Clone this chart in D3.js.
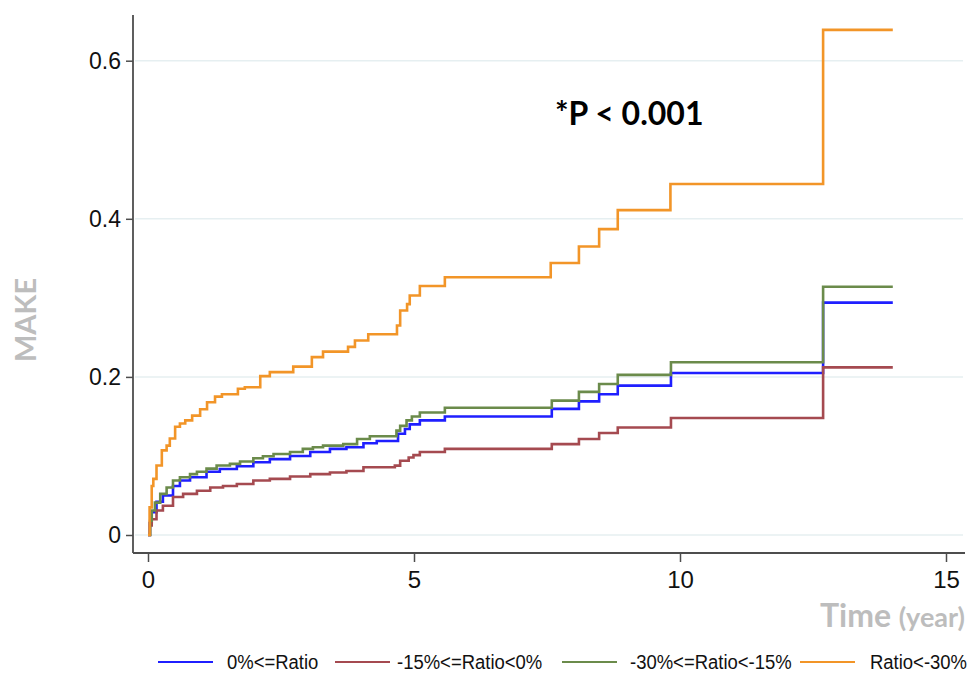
<!DOCTYPE html>
<html>
<head>
<meta charset="utf-8">
<script src="https://cdn.jsdelivr.net/npm/d3@7"></script>
<style>
  body { margin: 0; background: #fff; }
  svg { display: block; }
</style>
</head>
<body>
<div id="chart"></div>
<script>
// cumulative incidence (step points: time in years, value after the step)
let blueT = [0, 0.03, 0.07, 0.16, 0.28, 0.47, 0.60, 0.79, 1.10, 1.35, 1.67, 1.98, 2.29, 2.67, 3.05, 3.42, 3.73, 4.05, 4.30, 4.70, 4.83, 4.92, 5.11, 5.58, 7.59, 8.10, 8.48, 8.83, 9.83, 12.69, 14.0]
let blueV = [0, 0.015, 0.029, 0.042, 0.050, 0.062, 0.069, 0.073, 0.080, 0.0835, 0.087, 0.092, 0.096, 0.100, 0.105, 0.109, 0.111, 0.116, 0.119, 0.128, 0.134, 0.140, 0.145, 0.150, 0.1595, 0.169, 0.178, 0.189, 0.205, 0.294, 0.294]

let redT = [0, 0.04, 0.07, 0.16, 0.28, 0.47, 0.66, 0.92, 1.17, 1.41, 1.67, 1.98, 2.29, 2.67, 3.05, 3.42, 3.73, 4.05, 4.64, 4.74, 4.90, 4.99, 5.11, 5.58, 7.59, 8.10, 8.48, 8.83, 9.83, 12.69, 14.0]
let redV = [0, 0.012, 0.020, 0.031, 0.037, 0.048, 0.052, 0.056, 0.060, 0.062, 0.0646, 0.069, 0.071, 0.074, 0.077, 0.079, 0.081, 0.0857, 0.0877, 0.094, 0.098, 0.101, 0.105, 0.109, 0.115, 0.1215, 0.129, 0.136, 0.148, 0.212, 0.212]

let greenT = [0, 0.04, 0.07, 0.13, 0.23, 0.35, 0.47, 0.60, 0.79, 0.92, 1.10, 1.29, 1.54, 1.73, 1.98, 2.16, 2.36, 2.67, 2.91, 3.10, 3.29, 3.67, 3.93, 4.17, 4.67, 4.74, 4.86, 4.96, 5.11, 5.58, 7.59, 8.10, 8.48, 8.83, 9.83, 12.69, 14.0]
let greenV = [0, 0.018, 0.031, 0.041, 0.052, 0.060, 0.069, 0.073, 0.077, 0.080, 0.084, 0.088, 0.090, 0.093, 0.097, 0.0996, 0.1025, 0.105, 0.109, 0.111, 0.113, 0.115, 0.1215, 0.125, 0.132, 0.138, 0.145, 0.150, 0.155, 0.161, 0.170, 0.181, 0.191, 0.2025, 0.2186, 0.314, 0.314]

let orangeT = [0, 0.03, 0.07, 0.10, 0.16, 0.26, 0.35, 0.41, 0.51, 0.60, 0.70, 0.83, 0.98, 1.11, 1.26, 1.39, 1.69, 1.82, 2.11, 2.29, 2.73, 3.08, 3.29, 3.76, 3.89, 4.14, 4.68, 4.74, 4.87, 4.92, 5.11, 5.58, 7.57, 8.10, 8.48, 8.83, 9.82, 12.69, 14.0]
let orangeV = [0, 0.035, 0.062, 0.071, 0.088, 0.107, 0.113, 0.122, 0.137, 0.141, 0.145, 0.151, 0.159, 0.168, 0.175, 0.178, 0.185, 0.187, 0.201, 0.206, 0.213, 0.225, 0.232, 0.238, 0.246, 0.254, 0.265, 0.284, 0.292, 0.303, 0.315, 0.326, 0.344, 0.365, 0.387, 0.411, 0.444, 0.639, 0.639]

let seriesNames = ["0%<=Ratio", "-15%<=Ratio<0%", "-30%<=Ratio<-15%", "Ratio<-30%"]
let seriesColors = ["#1f1fff", "#a54a50", "#6b8b4b", "#f29528"]
let xTicks = [0, 5, 10, 15]
let yTicks = [0, 0.2, 0.4, 0.6]

let series = [
  {T: blueT, V: blueV},
  {T: redT, V: redV},
  {T: greenT, V: greenV},
  {T: orangeT, V: orangeV}
]

let width = 969, height = 673

let svg = d3.select("#chart")
  .append("svg")
  .attr("width", width)
  .attr("height", height)

// Domain is numeric range, range is pixels covered
let xAx = d3.scaleLinear().domain([0, 15]).range([148, 946])
let yAx = d3.scaleLinear().domain([0, 0.6]).range([535, 60.7])

let axisX = 133, axisY = 553

// gridlines
svg.append("g")
  .selectAll("line")
  .data(yTicks)
  .join("line")
  .attr("x1", axisX + 2)
  .attr("x2", 963)
  .attr("y1", d => yAx(d))
  .attr("y2", d => yAx(d))
  .attr("stroke", "#e6eff1")
  .attr("stroke-width", 1.5)

// y axis
let yAxisG = svg.append("g")
  .attr("transform", "translate(" + axisX + ",0)")
  .call(d3.axisLeft(yAx).tickValues(yTicks).tickSize(7).tickPadding(5)
    .tickFormat(d => d === 0 ? "0" : d3.format(".1f")(d)))
yAxisG.select(".domain").remove()
yAxisG.selectAll("line").attr("stroke", "#4d4d4d").attr("stroke-width", 1.5)
yAxisG.selectAll("text")
  .style("font-family", "'Liberation Sans', Arial, sans-serif")
  .style("font-size", "23px")
  .attr("fill", "#111")

// x axis
let xAxisG = svg.append("g")
  .attr("transform", "translate(0," + axisY + ")")
  .call(d3.axisBottom(xAx).tickValues(xTicks).tickSize(9).tickPadding(9))
xAxisG.select(".domain").remove()
xAxisG.selectAll("line").attr("stroke", "#4d4d4d").attr("stroke-width", 1.5)
xAxisG.selectAll("text")
  .style("font-family", "'Liberation Sans', Arial, sans-serif")
  .style("font-size", "24px")
  .attr("fill", "#111")

// axis lines
svg.append("line")
  .attr("x1", axisX).attr("x2", axisX)
  .attr("y1", 15).attr("y2", axisY)
  .attr("stroke", "#4d4d4d").attr("stroke-width", 1.8)
svg.append("line")
  .attr("x1", axisX).attr("x2", 965)
  .attr("y1", axisY).attr("y2", axisY)
  .attr("stroke", "#4d4d4d").attr("stroke-width", 1.8)

// curves
let step = d3.line()
  .x(d => xAx(d[0]))
  .y(d => yAx(d[1]))
  .curve(d3.curveStepAfter)

series.forEach((s, i) => {
  svg.append("path")
    .datum(d3.zip(s.T, s.V))
    .attr("d", step)
    .attr("fill", "none")
    .attr("stroke", seriesColors[i])
    .attr("stroke-width", 2.6)
    .attr("stroke-linejoin", "miter")
})

// annotation
svg.append("text")
  .attr("x", 555)
  .attr("y", 125)
  .style("font-family", "Lato, 'Open Sans', sans-serif")
  .style("font-weight", "bold")
  .style("font-size", "32px")
  .attr("fill", "#000")
  .text("*P < 0.001")

// axis titles
svg.append("text")
  .attr("transform", "translate(36,320) rotate(-90)")
  .attr("text-anchor", "middle")
  .style("font-family", "Lato, 'Open Sans', sans-serif")
  .style("font-weight", "bold")
  .style("font-size", "29px")
  .attr("fill", "#bdbdbd")
  .text("MAKE")

let timeLabel = svg.append("text")
  .attr("x", 965)
  .attr("y", 627)
  .attr("text-anchor", "end")
  .style("font-family", "Lato, 'Open Sans', sans-serif")
  .style("font-weight", "bold")
  .attr("fill", "#bdbdbd")
timeLabel.append("tspan").style("font-size", "32px").text("Time ")
timeLabel.append("tspan").style("font-size", "27px").text("(year)")

// legend
let legendX = [158, 335, 562, 800]
let legendTextX = [227, 397, 630, 870]
let legend = svg.append("g")
seriesNames.forEach((name, i) => {
  legend.append("line")
    .attr("x1", legendX[i]).attr("x2", legendX[i] + 55)
    .attr("y1", 662).attr("y2", 662)
    .attr("stroke", seriesColors[i])
    .attr("stroke-width", 2)
  legend.append("text")
    .attr("transform", "translate(" + legendTextX[i] + ",669) scale(0.88,1)")
    .style("font-family", "'Liberation Sans', Arial, sans-serif")
    .style("font-size", "21px")
    .attr("fill", "#111")
    .text(name)
})
</script>
</body>
</html>
